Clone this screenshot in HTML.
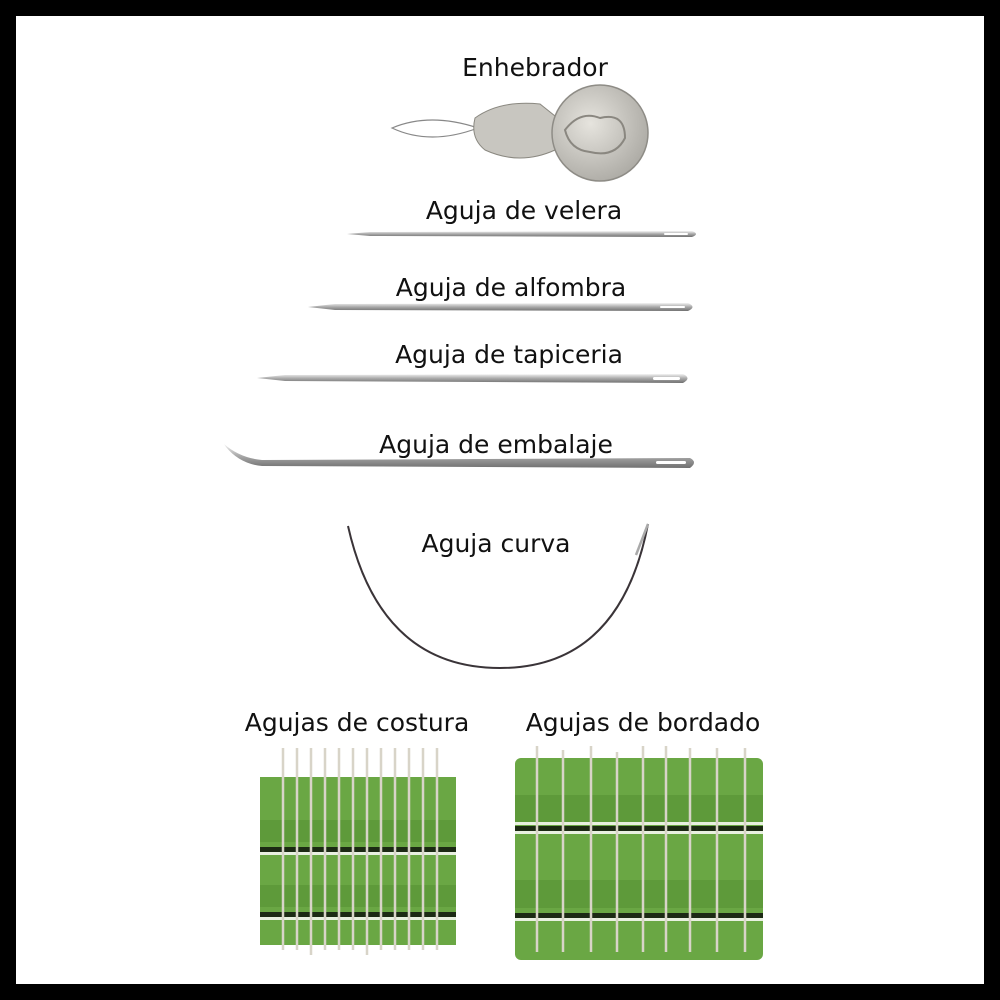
<!DOCTYPE html>
<html><head><meta charset="utf-8"><style>
html,body{margin:0;padding:0;background:#000}
svg{display:block}
text{font-family:"DejaVu Sans","Liberation Sans",sans-serif;font-size:25px;fill:#111;text-anchor:middle}
</style></head><body>
<svg width="1000" height="1000" viewBox="0 0 1000 1000" xmlns="http://www.w3.org/2000/svg">
<defs>
<linearGradient id="met" x1="0" y1="0" x2="0" y2="1">
<stop offset="0" stop-color="#f2f2f2"/><stop offset="0.5" stop-color="#a8a8a8"/><stop offset="1" stop-color="#707070"/>
</linearGradient>
<radialGradient id="disc" cx="0.4" cy="0.4" r="0.7">
<stop offset="0" stop-color="#e6e4de"/><stop offset="1" stop-color="#a8a6a0"/>
</radialGradient>
</defs>
<rect x="0" y="0" width="1000" height="1000" fill="#000"/>
<rect x="16" y="16" width="968" height="968" fill="#fff"/>

<!-- Enhebrador -->
<text x="535" y="76">Enhebrador</text>
<path d="M392,128 Q430,112 478,128 Q430,146 392,128 Z" fill="none" stroke="#888" stroke-width="1.2"/>
<path d="M475,118 Q500,100 540,104 L560,120 L555,150 Q520,166 485,150 Q470,138 475,118 Z" fill="#c8c6c0" stroke="#8a8880" stroke-width="1"/>
<circle cx="600" cy="133" r="48" fill="url(#disc)" stroke="#8e8c86" stroke-width="1.5"/>
<path d="M565,130 Q580,110 600,118 Q625,112 625,138 Q615,158 590,152 Q570,150 565,130 Z" fill="none" stroke="#8a8780" stroke-width="2"/>

<!-- Velera -->
<text x="524" y="219">Aguja de velera</text>
<path d="M347,234 L370,232 L692,231 Q700,234 692,237 L370,236 Z" fill="url(#met)"/>
<rect x="664" y="233" width="24" height="2" rx="1" fill="#fff"/>

<!-- Alfombra -->
<text x="511" y="296">Aguja de alfombra</text>
<path d="M308,307 L335,304 L688,303 Q697,307 688,311 L335,310 Z" fill="url(#met)"/>
<rect x="660" y="306" width="25" height="2" rx="1" fill="#fff"/>

<!-- Tapiceria -->
<text x="509" y="363">Aguja de tapiceria</text>
<path d="M257,378 L285,375 L683,374 Q692,378 683,383 L285,381 Z" fill="url(#met)"/>
<rect x="653" y="377" width="27" height="3" rx="1.5" fill="#fff"/>

<!-- Embalaje -->
<text x="496" y="453">Aguja de embalaje</text>
<path d="M224,444 Q240,458 262,460 L690,458 Q698,462 690,468 L262,466 Q240,464 226,447 Z" fill="url(#met)"/>
<rect x="656" y="461" width="30" height="3" rx="1.5" fill="#fff"/>

<!-- Curva -->
<text x="496" y="552">Aguja curva</text>
<path d="M348,526 Q380,668 500,668 Q620,668 648,524" fill="none" stroke="#3a3438" stroke-width="2"/>
<path d="M636,555 L648,524" stroke="#aaa" stroke-width="2.5"/>

<!-- Packets -->
<text x="357" y="731">Agujas de costura</text>
<text x="643" y="731">Agujas de bordado</text>

<rect x="260" y="777" width="196" height="168" fill="#6aa744"/>
<rect x="260" y="820" width="196" height="22" fill="#5e9a3a"/>
<rect x="260" y="885" width="196" height="22" fill="#5e9a3a"/>
<rect x="260" y="847" width="196" height="5" fill="#1c2a14"/>
<rect x="260" y="852" width="196" height="3" fill="#e8f0e0"/>
<rect x="260" y="912" width="196" height="5" fill="#1c2a14"/>
<rect x="260" y="917" width="196" height="3" fill="#e8f0e0"/>
<g stroke="#d8d4c8" stroke-width="2.5">
<line x1="283" y1="748" x2="283" y2="950"/><line x1="297" y1="748" x2="297" y2="950"/>
<line x1="311" y1="748" x2="311" y2="955"/><line x1="325" y1="748" x2="325" y2="950"/>
<line x1="339" y1="748" x2="339" y2="950"/><line x1="353" y1="748" x2="353" y2="950"/>
<line x1="367" y1="748" x2="367" y2="955"/><line x1="381" y1="748" x2="381" y2="950"/>
<line x1="395" y1="748" x2="395" y2="950"/><line x1="409" y1="748" x2="409" y2="950"/>
<line x1="423" y1="748" x2="423" y2="950"/><line x1="437" y1="748" x2="437" y2="950"/>
</g>

<rect x="515" y="758" width="248" height="202" rx="6" fill="#6aa744"/>
<rect x="515" y="795" width="248" height="28" fill="#5e9a3a"/>
<rect x="515" y="880" width="248" height="28" fill="#5e9a3a"/>
<rect x="515" y="826" width="248" height="5" fill="#1c2a14"/>
<rect x="515" y="822" width="248" height="3" fill="#e8f0e0"/>
<rect x="515" y="831" width="248" height="3" fill="#e8f0e0"/>
<rect x="515" y="913" width="248" height="5" fill="#1c2a14"/>
<rect x="515" y="918" width="248" height="3" fill="#e8f0e0"/>
<g stroke="#d8d4c8" stroke-width="2.5">
<line x1="537" y1="746" x2="537" y2="952"/><line x1="563" y1="750" x2="563" y2="952"/>
<line x1="591" y1="746" x2="591" y2="952"/><line x1="617" y1="752" x2="617" y2="952"/>
<line x1="643" y1="746" x2="643" y2="952"/><line x1="666" y1="746" x2="666" y2="952"/>
<line x1="690" y1="748" x2="690" y2="952"/><line x1="717" y1="748" x2="717" y2="952"/>
<line x1="745" y1="748" x2="745" y2="952"/>
</g>
</svg>
</body></html>
